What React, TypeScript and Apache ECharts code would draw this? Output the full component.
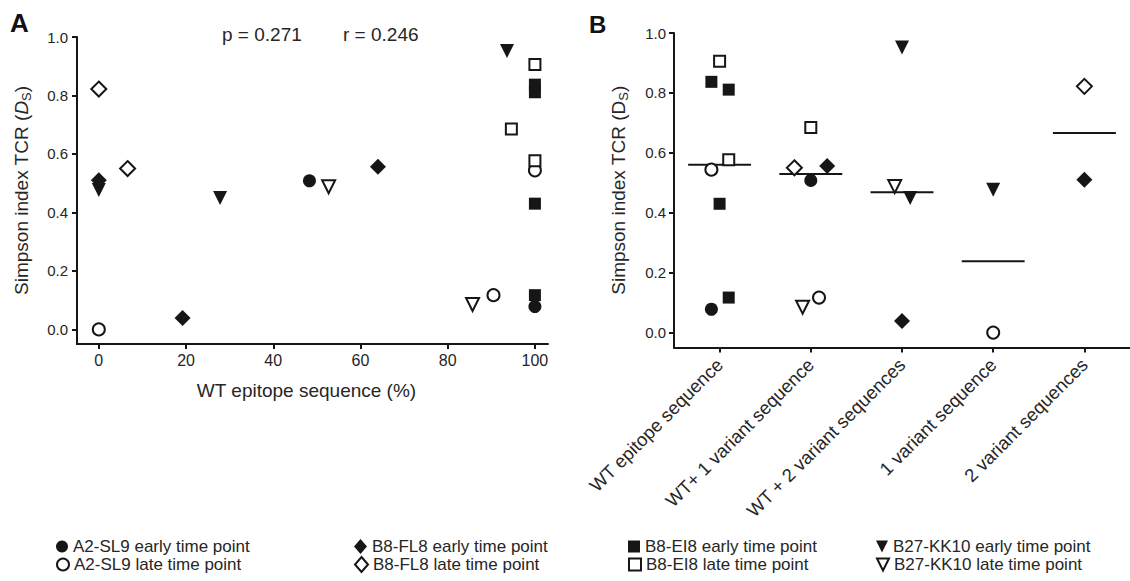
import React, { useEffect, useRef } from "react";
import * as echarts from "echarts";

// ---------- data ----------
const categoriesB = [
  "WT epitope sequence",
  "WT+ 1 variant sequence",
  "WT + 2 variant sequences",
  "1 variant sequence",
  "2 variant sequences",
];
const xTicksA = [0, 20, 40, 60, 80, 100];
const yTicks = [0, 0.2, 0.4, 0.6, 0.8, 1.0];
const pText = "p = 0.271";
const rText = "r = 0.246";

// A2-SL9 early (filled circle)
const a2EarlyWt = [48.3, 100];
const a2EarlyDs = [0.508, 0.078];
const a2EarlyGroup = [1, 0];
const a2EarlyJitter = [0, -0.09];
// A2-SL9 late (open circle)
const a2LateWt = [0, 90.5, 100];
const a2LateDs = [0.0, 0.117, 0.544];
const a2LateGroup = [3, 1, 0];
const a2LateJitter = [0, 0.09, -0.09];
// B8-FL8 early (filled diamond)
const fl8EarlyWt = [0, 19.2, 64];
const fl8EarlyDs = [0.51, 0.039, 0.556];
const fl8EarlyGroup = [4, 2, 1];
const fl8EarlyJitter = [0, 0, 0.18];
// B8-FL8 late (open diamond)
const fl8LateWt = [0, 6.6];
const fl8LateDs = [0.822, 0.55];
const fl8LateGroup = [4, 1];
const fl8LateJitter = [0, -0.18];
// B8-EI8 early (filled square)
const ei8EarlyWt = [100, 100, 100, 100];
const ei8EarlyDs = [0.837, 0.811, 0.43, 0.117];
const ei8EarlyGroup = [0, 0, 0, 0];
const ei8EarlyJitter = [-0.09, 0.1, 0, 0.1];
// B8-EI8 late (open square)
const ei8LateWt = [100, 100, 94.6];
const ei8LateDs = [0.906, 0.577, 0.685];
const ei8LateGroup = [0, 0, 1];
const ei8LateJitter = [0, 0.1, 0];
// B27-KK10 early (filled down triangle)
const kk10EarlyWt = [0, 27.8, 93.6];
const kk10EarlyDs = [0.477, 0.449, 0.952];
const kk10EarlyGroup = [3, 2, 2];
const kk10EarlyJitter = [0, 0.09, 0];
// B27-KK10 late (open down triangle)
const kk10LateWt = [52.7, 85.7];
const kk10LateDs = [0.488, 0.085];
const kk10LateGroup = [2, 1];
const kk10LateJitter = [-0.08, -0.09];

const INK = "#161616";
const TXT = "#262626";
const FONT = "'Liberation Sans', Arial, Helvetica, sans-serif";
const DOWN_TRIANGLE = "path://M0,0L10,0L5,10Z";

type Spec = {
  name: string;
  wt: number[];
  ds: number[];
  group: number[];
  jitter: number[];
  symbol: string;
  filled: boolean;
  rotate: number;
  size: number;
};

const specs: Spec[] = [
  { name: "A2-SL9 early time point", wt: a2EarlyWt, ds: a2EarlyDs, group: a2EarlyGroup, jitter: a2EarlyJitter, symbol: "circle", filled: true, rotate: 0, size: 13 },
  { name: "A2-SL9 late time point", wt: a2LateWt, ds: a2LateDs, group: a2LateGroup, jitter: a2LateJitter, symbol: "circle", filled: false, rotate: 0, size: 12 },
  { name: "B8-FL8 early time point", wt: fl8EarlyWt, ds: fl8EarlyDs, group: fl8EarlyGroup, jitter: fl8EarlyJitter, symbol: "diamond", filled: true, rotate: 0, size: 16 },
  { name: "B8-FL8 late time point", wt: fl8LateWt, ds: fl8LateDs, group: fl8LateGroup, jitter: fl8LateJitter, symbol: "diamond", filled: false, rotate: 0, size: 15 },
  { name: "B8-EI8 early time point", wt: ei8EarlyWt, ds: ei8EarlyDs, group: ei8EarlyGroup, jitter: ei8EarlyJitter, symbol: "rect", filled: true, rotate: 0, size: 12 },
  { name: "B8-EI8 late time point", wt: ei8LateWt, ds: ei8LateDs, group: ei8LateGroup, jitter: ei8LateJitter, symbol: "rect", filled: false, rotate: 0, size: 11 },
  { name: "B27-KK10 early time point", wt: kk10EarlyWt, ds: kk10EarlyDs, group: kk10EarlyGroup, jitter: kk10EarlyJitter, symbol: "triangle", filled: true, rotate: 180, size: 14 },
  { name: "B27-KK10 late time point", wt: kk10LateWt, ds: kk10LateDs, group: kk10LateGroup, jitter: kk10LateJitter, symbol: "triangle", filled: false, rotate: 180, size: 13 },
];

function median(vals: number[]): number {
  const s = [...vals].sort((a, b) => a - b);
  const n = s.length;
  if (n === 0) return NaN;
  return n % 2 ? s[(n - 1) / 2] : (s[n / 2 - 1] + s[n / 2]) / 2;
}

const groupMedians = categoriesB.map((_, gi) => {
  const vals: number[] = [];
  specs.forEach((sp) => sp.group.forEach((g, k) => { if (g === gi) vals.push(sp.ds[k]); }));
  return median(vals);
});

function itemStyleFor(sp: Spec) {
  return sp.filled
    ? { color: INK, borderColor: INK, borderWidth: 0, opacity: 1 }
    : { color: "#ffffff", borderColor: INK, borderWidth: 2, opacity: 1 };
}

function buildOption(): any {
  const axisLine = { show: true, onZero: false, lineStyle: { color: INK, width: 2 } };
  const axisTick = { show: true, length: 5, lineStyle: { color: INK, width: 2 } };
  const labelStyle = { color: TXT, fontSize: 15, fontFamily: FONT };
  const yName = (italic: boolean) => ({
    name: italic ? "{n|Simpson index TCR (}{i|D}{s|S}{n|)}" : "{n|Simpson index TCR (D}{s|S}{n|)}",
    nameLocation: "middle",
    nameGap: 44,
    nameRotate: 90,
    nameTextStyle: {
      rich: {
        n: { fontSize: 19, fontFamily: FONT, color: TXT, lineHeight: 24 },
        i: { fontSize: 19, fontFamily: FONT, color: TXT, fontStyle: "italic", lineHeight: 24 },
        s: { fontSize: 13, fontFamily: FONT, color: TXT, lineHeight: 14, verticalAlign: "bottom" },
      },
    },
  });

  const series: any[] = [];
  specs.forEach((sp) => {
    series.push({
      type: "scatter",
      name: sp.name,
      xAxisIndex: 0,
      yAxisIndex: 0,
      symbol: sp.symbol,
      symbolSize: sp.size,
      symbolRotate: sp.rotate,
      itemStyle: itemStyleFor(sp),
      emphasis: { disabled: true },
      data: sp.wt.map((w, k) => [w, sp.ds[k]]),
      z: sp.filled ? 3 : 4,
    });
    series.push({
      type: "scatter",
      name: sp.name,
      xAxisIndex: 2,
      yAxisIndex: 1,
      symbol: sp.symbol,
      symbolSize: sp.size,
      symbolRotate: sp.rotate,
      itemStyle: itemStyleFor(sp),
      emphasis: { disabled: true },
      data: sp.group.map((g, k) => [g + sp.jitter[k], sp.ds[k]]),
      z: sp.filled ? 3 : 4,
    });
  });
  series.push({
    type: "custom",
    name: "median",
    xAxisIndex: 2,
    yAxisIndex: 1,
    silent: true,
    z: 2,
    data: groupMedians.map((m, i) => [i, m]),
    renderItem: (params: any, api: any) => {
      const c = api.value(0);
      const m = api.value(1);
      const p1 = api.coord([c - 0.345, m]);
      const p2 = api.coord([c + 0.345, m]);
      return {
        type: "line",
        shape: { x1: p1[0], y1: p1[1], x2: p2[0], y2: p2[1] },
        style: { stroke: INK, lineWidth: 2 },
      };
    },
  });

  const legendCols = [56, 354, 628, 876];
  const legendRows = [538, 556];
  const legends = specs.map((sp, idx) => {
    const lg: any = {
      data: [sp.name],
      left: legendCols[Math.floor(idx / 2)],
      top: legendRows[idx % 2],
      padding: 0,
      itemWidth: sp.symbol === "diamond" ? 13 : 12,
      itemHeight: sp.symbol === "diamond" ? 15 : 12,
      selectedMode: false,
      textStyle: { fontSize: 17, fontFamily: FONT, color: TXT },
    };
    if (sp.symbol === "triangle") lg.icon = DOWN_TRIANGLE;
    return lg;
  });

  return {
    animation: false,
    backgroundColor: "#ffffff",
    grid: [
      { left: 77, top: 37, width: 471, height: 307 },
      { left: 674, top: 33, width: 461.5, height: 314.6 },
    ],
    xAxis: [
      {
        type: "value",
        gridIndex: 0,
        min: -5,
        max: 103,
        axisLine,
        axisTick: { ...axisTick, customValues: xTicksA },
        axisLabel: { ...labelStyle, fontSize: 16, margin: 8, customValues: xTicksA, formatter: (v: number) => String(v) },
        splitLine: { show: false },
        name: "WT epitope sequence (%)",
        nameLocation: "middle",
        nameGap: 37,
        nameTextStyle: { fontSize: 19, fontFamily: FONT, color: TXT, padding: [0, 12, 0, 0] },
      },
      {
        type: "category",
        gridIndex: 1,
        data: categoriesB,
        boundaryGap: true,
        axisLine,
        axisTick: { ...axisTick, alignWithLabel: true },
        axisLabel: { ...labelStyle, fontSize: 18.5, rotate: 45, interval: 0, margin: 14 },
        splitLine: { show: false },
      },
      {
        type: "value",
        gridIndex: 1,
        min: -0.5,
        max: 4.5,
        show: false,
        splitLine: { show: false },
      },
    ],
    yAxis: [
      {
        type: "value",
        gridIndex: 0,
        min: -0.05,
        max: 1,
        axisLine,
        axisTick: { ...axisTick, customValues: yTicks },
        axisLabel: { ...labelStyle, margin: 9, customValues: yTicks, formatter: (v: number) => v.toFixed(1) },
        splitLine: { show: false },
        ...yName(true),
      },
      {
        type: "value",
        gridIndex: 1,
        min: -0.05,
        max: 1,
        axisLine,
        axisTick: { ...axisTick, customValues: yTicks },
        axisLabel: { ...labelStyle, margin: 8, customValues: yTicks, formatter: (v: number) => v.toFixed(1) },
        splitLine: { show: false },
        ...yName(false),
      },
    ],
    legend: legends,
    graphic: [
      { type: "text", left: 10, top: 10, style: { text: "A", fontSize: 26, fontWeight: "bold", fontFamily: FONT, fill: "#111" } },
      { type: "text", left: 589, top: 12, style: { text: "B", fontSize: 24, fontWeight: "bold", fontFamily: FONT, fill: "#111" } },
      { type: "text", left: 222, top: 25, style: { text: pText, fontSize: 19, fontFamily: FONT, fill: TXT } },
      { type: "text", left: 343, top: 25, style: { text: rText, fontSize: 19, fontFamily: FONT, fill: TXT } },
    ],
    series,
  };
}

export default function App() {
  const ref = useRef<HTMLDivElement>(null);
  useEffect(() => {
    if (!ref.current) return;
    const chart = echarts.init(ref.current, null, { renderer: "svg" });
    chart.setOption(buildOption());
    return () => chart.dispose();
  }, []);
  return (
    <div
      ref={ref}
      style={{ position: "absolute", left: 0, top: 0, width: 1130, height: 581, background: "#fff" }}
    />
  );
}
